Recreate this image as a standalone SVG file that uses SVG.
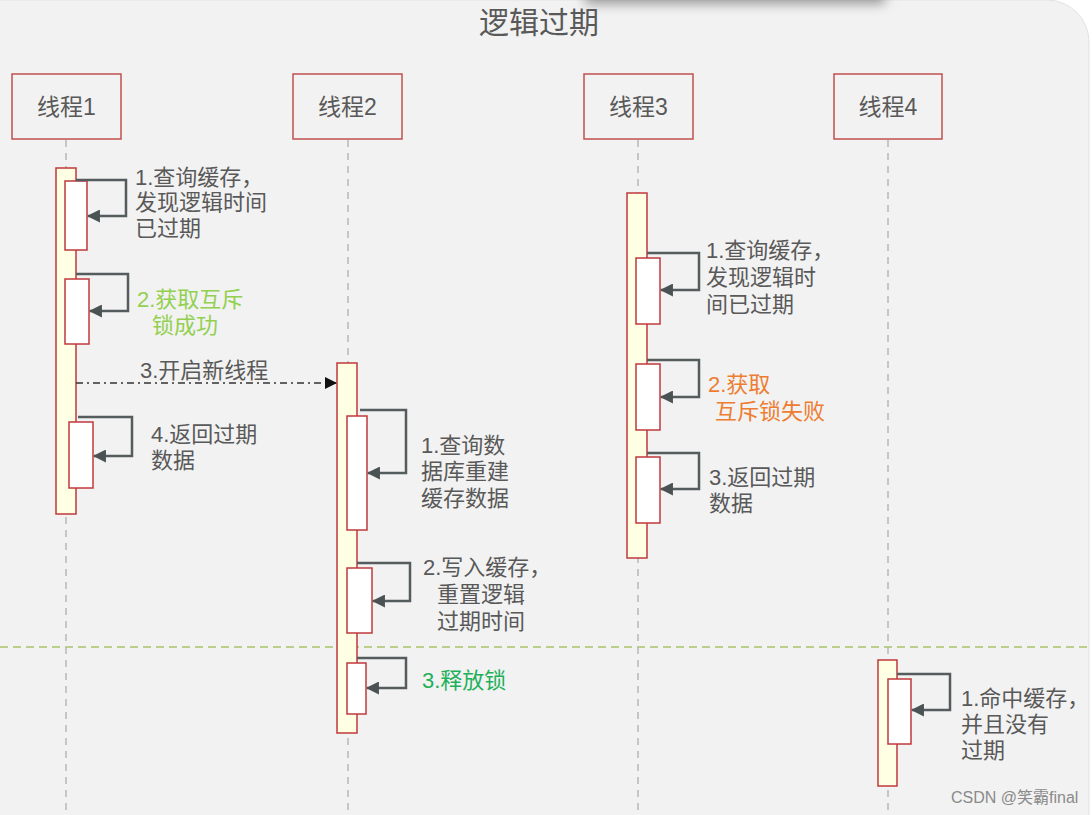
<svg xmlns="http://www.w3.org/2000/svg" width="1092" height="815" viewBox="0 0 1092 815">
<defs>
<style>
.t{font-family:"Liberation Sans","Noto Sans CJK SC",sans-serif;font-size:22px;fill:#595959}
.h{font-family:"Liberation Sans","Noto Sans CJK SC",sans-serif;font-size:23px;fill:#595959}
.hdr{fill:#f2f2f2;stroke:#c0504d;stroke-width:1.5}
.life{stroke:#b8b8b8;stroke-width:1.5;stroke-dasharray:7 6;fill:none}
.bar{fill:#ffffe3;stroke:#c0393b;stroke-width:1.5}
.box{fill:#ffffff;stroke:#c0393b;stroke-width:1.5}
.loop{fill:none;stroke:#555c5e;stroke-width:2.5;marker-end:url(#ah)}
</style>
<marker id="ah" markerUnits="userSpaceOnUse" viewBox="0 0 12 12" refX="11" refY="6" markerWidth="13" markerHeight="13" orient="auto"><path d="M0,0 L12,6 L0,12 z" fill="#4a5254"/></marker>
<marker id="ab" markerUnits="userSpaceOnUse" viewBox="0 0 12 12" refX="11" refY="6" markerWidth="12" markerHeight="12" orient="auto"><path d="M0,0 L12,6 L0,12 z" fill="#111"/></marker>
<filter id="sh" x="-20%" y="-200%" width="140%" height="500%"><feGaussianBlur stdDeviation="6"/></filter>
</defs>
<rect x="0" y="0" width="1092" height="815" fill="#ffffff"/>
<rect x="-40" y="0" width="1129" height="900" rx="42" fill="#f2f2f2" stroke="#e2e2e2"/>
<rect x="585" y="-20" width="300" height="24" fill="#999" filter="url(#sh)"/>
<text x="539" y="33" text-anchor="middle" class="t" style="font-size:30px">逻辑过期</text>
<line x1="0" y1="647" x2="1092" y2="647" stroke="#a8c46a" stroke-width="1.5" stroke-dasharray="8 5"/>

<g id="thread1">
<rect class="hdr" x="12" y="74" width="109" height="65"/>
<text class="h" x="66.5" y="115" text-anchor="middle">线程1</text>
<line class="life" x1="66" y1="140" x2="66" y2="815"/>
<rect class="bar" x="56" y="168" width="20" height="346"/>
<rect class="box" x="65" y="181" width="22" height="69"/>
<rect class="box" x="65" y="279" width="24" height="65"/>
<rect class="box" x="69" y="422" width="24" height="66"/>
</g>

<g id="thread2">
<rect class="hdr" x="293" y="74" width="109" height="65"/>
<text class="h" x="347.5" y="115" text-anchor="middle">线程2</text>
<line class="life" x1="348" y1="140" x2="348" y2="815"/>
<rect class="bar" x="337" y="363" width="20" height="370"/>
<rect class="box" x="347" y="416" width="20" height="114"/>
<rect class="box" x="347" y="568" width="25" height="65"/>
<rect class="box" x="347" y="663" width="19" height="51"/>
</g>

<g id="thread3">
<rect class="hdr" x="584" y="74" width="109" height="65"/>
<text class="h" x="638.5" y="115" text-anchor="middle">线程3</text>
<line class="life" x1="638" y1="140" x2="638" y2="815"/>
<rect class="bar" x="627" y="193" width="20" height="365"/>
<rect class="box" x="636" y="258" width="24" height="66"/>
<rect class="box" x="636" y="364" width="24" height="66"/>
<rect class="box" x="636" y="457" width="24" height="66"/>
</g>

<g id="thread4">
<rect class="hdr" x="834" y="74" width="108" height="65"/>
<text class="h" x="888" y="115" text-anchor="middle">线程4</text>
<line class="life" x1="888" y1="140" x2="888" y2="815"/>
<rect class="bar" x="878" y="660" width="19" height="126"/>
<rect class="box" x="888" y="679" width="23" height="65"/>
</g>

<g id="connectors">
<path class="loop" d="M76,180 H126 V216 H88"/>
<path class="loop" d="M76,274 H128 V311 H90"/>
<path class="loop" d="M78,417 H132 V456 H94"/>
<path d="M76,383 H336" fill="none" stroke="#333" stroke-width="1.5" stroke-dasharray="7 4 2 4" marker-end="url(#ab)"/>
<path class="loop" d="M360,410 H406 V473 H368"/>
<path class="loop" d="M357,563 H410 V601 H373"/>
<path class="loop" d="M357,658 H406 V688 H367"/>
<path class="loop" d="M647,253 H699 V290 H661"/>
<path class="loop" d="M647,360 H699 V397 H661"/>
<path class="loop" d="M647,453 H699 V489 H661"/>
<path class="loop" d="M897,674 H950 V710 H912"/>
</g>

<g id="labels">
<text class="t"><tspan x="135" y="185">1.查询缓存，</tspan><tspan x="135" y="210">发现逻辑时间</tspan><tspan x="135" y="236">已过期</tspan></text>
<text class="t" style="fill:#92d050"><tspan x="137" y="307">2.获取互斥</tspan><tspan x="152" y="333">锁成功</tspan></text>
<text class="t" x="140" y="378">3.开启新线程</text>
<text class="t"><tspan x="151" y="442">4.返回过期</tspan><tspan x="151" y="468">数据</tspan></text>
<text class="t"><tspan x="421" y="453">1.查询数</tspan><tspan x="421" y="479">据库重建</tspan><tspan x="421" y="506">缓存数据</tspan></text>
<text class="t"><tspan x="423" y="575">2.写入缓存，</tspan><tspan x="437" y="602">重置逻辑</tspan><tspan x="437" y="629">过期时间</tspan></text>
<text class="t" x="422" y="688" style="fill:#1fb05a">3.释放锁</text>
<text class="t"><tspan x="706" y="258">1.查询缓存，</tspan><tspan x="706" y="285">发现逻辑时</tspan><tspan x="706" y="312">间已过期</tspan></text>
<text class="t" style="fill:#ed7d31"><tspan x="708" y="392">2.获取</tspan><tspan x="715" y="419">互斥锁失败</tspan></text>
<text class="t"><tspan x="709" y="485">3.返回过期</tspan><tspan x="709" y="511">数据</tspan></text>
<text class="t"><tspan x="961" y="706">1.命中缓存，</tspan><tspan x="961" y="732">并且没有</tspan><tspan x="961" y="758">过期</tspan></text>
<text x="951" y="803" style="font-family:'Liberation Sans','Noto Sans CJK SC',sans-serif;font-size:16px;fill:#8a8a8a">CSDN @笑霸final</text>
</g>
</svg>
